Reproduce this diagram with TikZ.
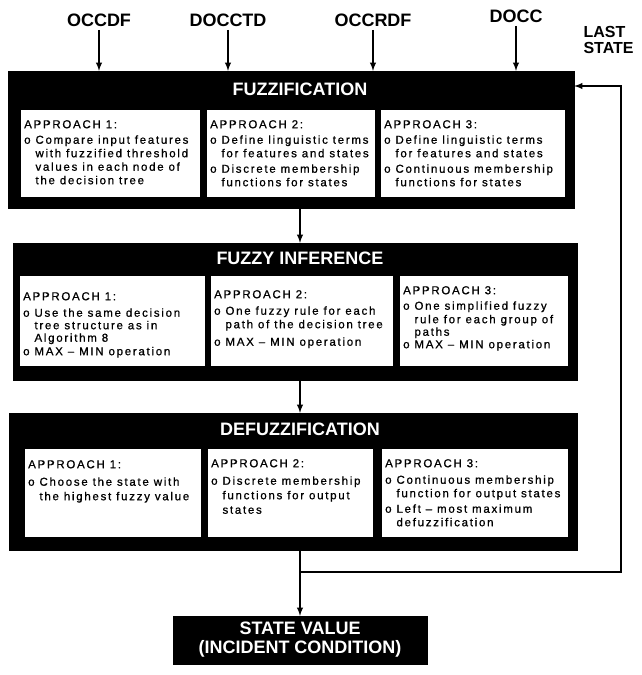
\documentclass[tikz,border=0pt]{standalone}
\usepackage{fontspec}
\setmainfont{Liberation Sans}
\newfontfamily\boxfont[LetterSpace=15,FakeBold=0.8]{Liberation Sans}
\usetikzlibrary{positioning}
\tikzset{>=latex}
\tikzstyle{stage}=[fill=black,draw=black,inner sep=0pt]
\tikzstyle{stagetitle}=[text=white,font=\fontsize{18}{18}\selectfont\bfseries]
\tikzstyle{approach}=[fill=white,inner sep=0pt,anchor=north west]
\tikzstyle{approachtext}=[align=left,inner sep=0pt,font=\boxfont\fontsize{11.5}{13.5}\selectfont]
\tikzstyle{input}=[font=\fontsize{18}{18}\selectfont\bfseries]
\tikzstyle{flow}=[->,line width=1.8pt]
\newcommand{\ind}{\hphantom{o\ }}

\begin{document}
\begin{tikzpicture}[x=1pt,y=-1pt]
	\useasboundingbox (0,0) rectangle (642,675);
	
	% inputs
	\node[input] (occdf) at (99,20) {OCCDF};
	\node[input] (docctd) at (228,20) {DOCCTD};
	\node[input] (occrdf) at (373,20) {OCCRDF};
	\node[input] (docc) at (516,16) {DOCC};
	\node[input,align=left,anchor=west,font=\fontsize{16}{15.5}\selectfont\bfseries] (laststate) at (580,40) {LAST\\STATE};
	
	% fuzzification
	\node[stage,minimum width=566pt,minimum height=137pt] (fuzz) at (291,139.5) {};
	\node[stagetitle] (fuzzt) at (300,89) {FUZZIFICATION};
	\node[approach,minimum width=179pt,minimum height=87pt] (fuzza) at (21,110) {};
	\node[approach,minimum width=168pt,minimum height=87pt] (fuzzb) at (207,110) {};
	\node[approach,minimum width=184pt,minimum height=87pt] (fuzzc) at (381,110) {};
	\node[approachtext,below right=10pt and 3pt of fuzza.north west] (fuzzatxt) {APPROACH 1:\\[2pt]
		o Compare input features\\\ind with fuzzified threshold\\\ind values in each node of\\\ind the decision tree};
	\node[approachtext,below right=10pt and 3pt of fuzzb.north west] (fuzzbtxt) {APPROACH 2:\\[2pt]
		o Define linguistic terms\\\ind for features and states\\[2pt]o Discrete membership\\\ind functions for states};
	\node[approachtext,below right=10pt and 3pt of fuzzc.north west] (fuzzctxt) {APPROACH 3:\\[2pt]
		o Define linguistic terms\\\ind for features and states\\[2pt]o Continuous membership\\\ind functions for states};
	
	% fuzzy inference
	\node[stage,minimum width=564pt,minimum height=137pt] (infer) at (295,311.5) {};
	\node[stagetitle] (infert) at (300,258) {FUZZY INFERENCE};
	\node[approach,minimum width=185pt,minimum height=90pt] (infera) at (20,276) {};
	\node[approach,minimum width=182pt,minimum height=90pt] (inferb) at (211,276) {};
	\node[approach,minimum width=168pt,minimum height=90pt] (inferc) at (400,276) {};
	\node[approachtext,below right=16pt and 3pt of infera.north west] (interatxt) {APPROACH 1:\\[3pt]
		o Use the same decision\\[-1pt]\ind tree structure as in\\[-1pt]\ind Algorithm 8\\o MAX – MIN operation};
	\node[approachtext,below right=14pt and 3pt of inferb.north west] (inferbtxt) {APPROACH 2:\\[3pt]
		o One fuzzy rule for each\\\ind path of the decision tree\\[4pt]o MAX – MIN operation};
	\node[approachtext,below right=10pt and 3pt of inferc.north west] (inferctxt) {APPROACH 3:\\[2pt]
		o One simplified fuzzy\\\ind rule for each group of\\[-1pt]\ind paths\\[-1pt]o MAX – MIN operation};
	
	% defuzzification
	\node[stage,minimum width=568pt,minimum height=137pt] (defuzz) at (293,481.5) {};
	\node[stagetitle] (defuzzt) at (300,429) {DEFUZZIFICATION};
	\node[approach,minimum width=176pt,minimum height=88pt] (defuzza) at (25,449) {};
	\node[approach,minimum width=165pt,minimum height=88pt] (defuzzb) at (208,449) {};
	\node[approach,minimum width=186pt,minimum height=88pt] (defuzzc) at (382,449) {};
	\node[approachtext,below right=11pt and 3pt of defuzza.north west] (defuzzatxt) {APPROACH 1:\\[4pt]
		o Choose the state with\\[1pt]\ind the highest fuzzy value};
	\node[approachtext,below right=10pt and 3pt of defuzzb.north west] (defuzzbtxt) {APPROACH 2:\\[4pt]
		o Discrete membership\\[1pt]\ind functions for output\\[1pt]\ind states};
	\node[approachtext,below right=10pt and 3pt of defuzzc.north west] (defuzzctxt) {APPROACH 3:\\[3pt]
		o Continuous membership\\\ind function for output states\\[2pt]o Left – most maximum\\\ind defuzzification};
	
	% output
	\node[stage,minimum width=254pt,minimum height=48pt,text=white,align=center,
		font=\fontsize{18}{19}\selectfont\bfseries] (state) at (300,640) {STATE VALUE\\(INCIDENT CONDITION)};
	
	% connections
	\foreach \n in {occdf,docctd,occrdf,docc}
		\draw[flow] (\n) -- (\n |- fuzz.north);
	\draw[flow] (fuzzt |- fuzz.south) -- (fuzzt |- infer.north);
	\draw[flow] (infert |- infer.south) -- (infert |- defuzz.north);
	\draw[flow] (defuzzt |- defuzz.south) -- (state);
	\coordinate (split) at (300,572);
	\coordinate (ret) at (621,572);
	\coordinate (back) at (621,86);
	\draw[flow] (split) -- (ret) -- (back) -- (back -| fuzz.east);
	
\end{tikzpicture}
\end{document}
